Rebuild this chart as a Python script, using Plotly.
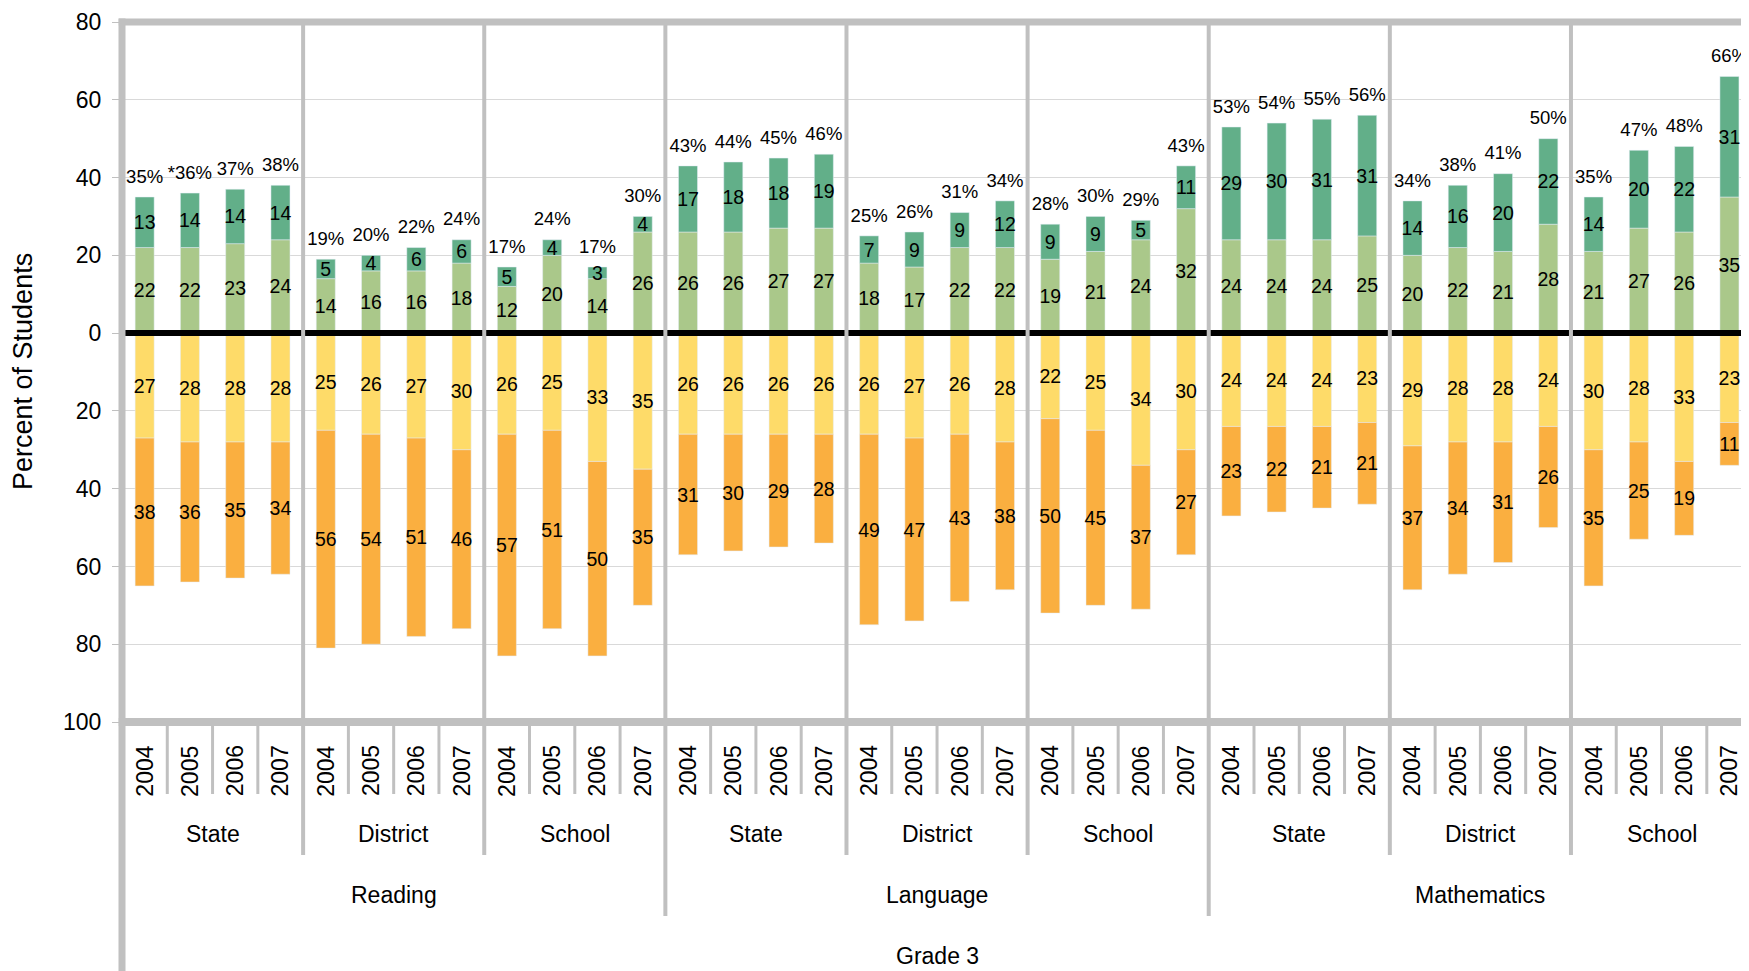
import plotly.graph_objects as go

# ---------------- data ----------------
years = ["2004", "2005", "2006", "2007"]
levels = ["State", "District", "School"]
subjects = ["Reading", "Language", "Mathematics"]
grade_label = "Grade 3"

proficient = [22, 22, 23, 24, 14, 16, 16, 18, 12, 20, 14, 26,
              26, 26, 27, 27, 18, 17, 22, 22, 19, 21, 24, 32,
              24, 24, 24, 25, 20, 22, 21, 28, 21, 27, 26, 35]
advanced = [13, 14, 14, 14, 5, 4, 6, 6, 5, 4, 3, 4,
            17, 18, 18, 19, 7, 9, 9, 12, 9, 9, 5, 11,
            29, 30, 31, 31, 14, 16, 20, 22, 14, 20, 22, 31]
basic = [27, 28, 28, 28, 25, 26, 27, 30, 26, 25, 33, 35,
         26, 26, 26, 26, 26, 27, 26, 28, 22, 25, 34, 30,
         24, 24, 24, 23, 29, 28, 28, 24, 30, 28, 33, 23]
below_basic = [38, 36, 35, 34, 56, 54, 51, 46, 57, 51, 50, 35,
               31, 30, 29, 28, 49, 47, 43, 38, 50, 45, 37, 27,
               23, 22, 21, 21, 37, 34, 31, 26, 35, 25, 19, 11]
total_labels = ["35%", "*36%", "37%", "38%", "19%", "20%", "22%", "24%", "17%", "24%", "17%", "30%",
                "43%", "44%", "45%", "46%", "25%", "26%", "31%", "34%", "28%", "30%", "29%", "43%",
                "53%", "54%", "55%", "56%", "34%", "38%", "41%", "50%", "35%", "47%", "48%", "66%"]

y_ticks = [-100, -80, -60, -40, -20, 0, 20, 40, 60, 80]

# ---------------- style ----------------
FONT = "Liberation Sans, Arial, sans-serif"
C_ADV = "#62AF89"
C_PROF = "#AAC88A"
C_BASIC = "#FEDB69"
C_BELOW = "#FAAF40"
GREY = "#C0C0C0"

PAGE_OFF = 8            # default body margin of the html page
W, H = 1749 - PAGE_OFF, 971 - PAGE_OFF
L, R, T, B = 122 - PAGE_OFF, 0, 22 - PAGE_OFF, 249
plot_w = W - L - R
plot_h = H - T - B
cat_px = 45.28
n = len(proficient)
x_min = -0.5
x_max = x_min + plot_w / cat_px

x = list(range(n))
totals = [p + a for p, a in zip(proficient, advanced)]


def xp(v):
    return (v - x_min) / (x_max - x_min)


def yp(px):
    # px: pixel row in the final screenshot
    return (T + plot_h - (px - PAGE_OFF)) / plot_h


fig = go.Figure()

bar_common = dict(width=0.42, textposition="inside", insidetextanchor="middle",
                  textangle=0, constraintext="none",
                  insidetextfont=dict(family=FONT, size=19.5, color="black"),
                  hoverinfo="skip")

fig.add_trace(go.Bar(x=x, y=proficient, marker_color=C_PROF, name="Proficient",
                     text=[str(v) for v in proficient], **bar_common))
fig.add_trace(go.Bar(x=x, y=advanced, marker_color=C_ADV, name="Advanced",
                     text=[str(v) for v in advanced], **bar_common))
fig.add_trace(go.Bar(x=x, y=[-v for v in basic], marker_color=C_BASIC, name="Basic",
                     text=[str(v) for v in basic], **bar_common))
fig.add_trace(go.Bar(x=x, y=[-v for v in below_basic], marker_color=C_BELOW, name="Below Basic",
                     text=[str(v) for v in below_basic], **bar_common))

fig.add_trace(go.Scatter(x=x, y=totals, mode="markers+text", text=total_labels,
                         marker=dict(size=14, opacity=0),
                         textposition="top center", cliponaxis=False,
                         textfont=dict(family=FONT, size=18.5, color="black"),
                         hoverinfo="skip", showlegend=False))

shapes = []
# zero line
shapes.append(dict(type="line", xref="paper", yref="y", x0=0, x1=1, y0=0, y1=0,
                   line=dict(color="black", width=6), layer="above"))
# plot borders
shapes.append(dict(type="line", xref="paper", yref="paper", x0=-0.002, x1=1, y0=1, y1=1,
                   line=dict(color=GREY, width=7), layer="above"))
shapes.append(dict(type="line", xref="paper", yref="paper", x0=-0.002, x1=1, y0=0, y1=0,
                   line=dict(color=GREY, width=8), layer="above"))
shapes.append(dict(type="line", xref="paper", yref="paper", x0=0, x1=0, y0=1.005, y1=yp(990),
                   line=dict(color=GREY, width=7), layer="above"))

# separators
for i in range(n - 1):
    b = i + 0.5
    if (i + 1) % 12 == 0:
        shapes.append(dict(type="line", xref="paper", yref="paper", x0=xp(b), x1=xp(b),
                           y0=1, y1=yp(916), line=dict(color=GREY, width=4), layer="above"))
    elif (i + 1) % 4 == 0:
        shapes.append(dict(type="line", xref="paper", yref="paper", x0=xp(b), x1=xp(b),
                           y0=1, y1=yp(855), line=dict(color=GREY, width=4), layer="above"))
    else:
        shapes.append(dict(type="line", xref="paper", yref="paper", x0=xp(b), x1=xp(b),
                           y0=0, y1=yp(794), line=dict(color=GREY, width=3), layer="above"))

annotations = []
for i in range(n):
    annotations.append(dict(x=i, xref="x", y=yp(771), yref="paper", text=years[i % 4],
                            textangle=-90, showarrow=False, xanchor="center", yanchor="middle",
                            font=dict(family=FONT, size=23, color="black")))
for g in range(9):
    annotations.append(dict(x=4 * g + 1.5, xref="x", y=yp(834), yref="paper", text=levels[g % 3],
                            showarrow=False, xanchor="center", yanchor="middle",
                            font=dict(family=FONT, size=23, color="black")))
for s in range(3):
    annotations.append(dict(x=12 * s + 5.5, xref="x", y=yp(895), yref="paper", text=subjects[s],
                            showarrow=False, xanchor="center", yanchor="middle",
                            font=dict(family=FONT, size=23, color="black")))
annotations.append(dict(x=(n - 1) / 2, xref="x", y=yp(956), yref="paper", text=grade_label,
                        showarrow=False, xanchor="center", yanchor="middle",
                        font=dict(family=FONT, size=23, color="black")))
annotations.append(dict(x=(23 - PAGE_OFF - L) / plot_w, xref="paper", y=0.5, yref="paper",
                        text="Percent of Students", textangle=-90, showarrow=False,
                        xanchor="center", yanchor="middle",
                        font=dict(family=FONT, size=27, color="black")))

fig.update_layout(
    width=W, height=H,
    margin=dict(l=L, r=R, t=T, b=B, pad=0),
    paper_bgcolor="white", plot_bgcolor="white",
    barmode="relative",
    showlegend=False,
    shapes=shapes,
    annotations=annotations,
    xaxis=dict(range=[x_min, x_max], showticklabels=False, showgrid=False,
               zeroline=False, showline=False, ticks=""),
    yaxis=dict(range=[-100, 80], tickvals=y_ticks, ticktext=[str(abs(v)) for v in y_ticks],
               showgrid=True, gridcolor="#D9D9D9", gridwidth=1, zeroline=False,
               showline=False, ticks="outside", ticklen=9, tickcolor=GREY, tickwidth=1,
               ticklabelstandoff=6,
               tickfont=dict(family=FONT, size=23, color="black")),
)

fig.write_html("out.html")
